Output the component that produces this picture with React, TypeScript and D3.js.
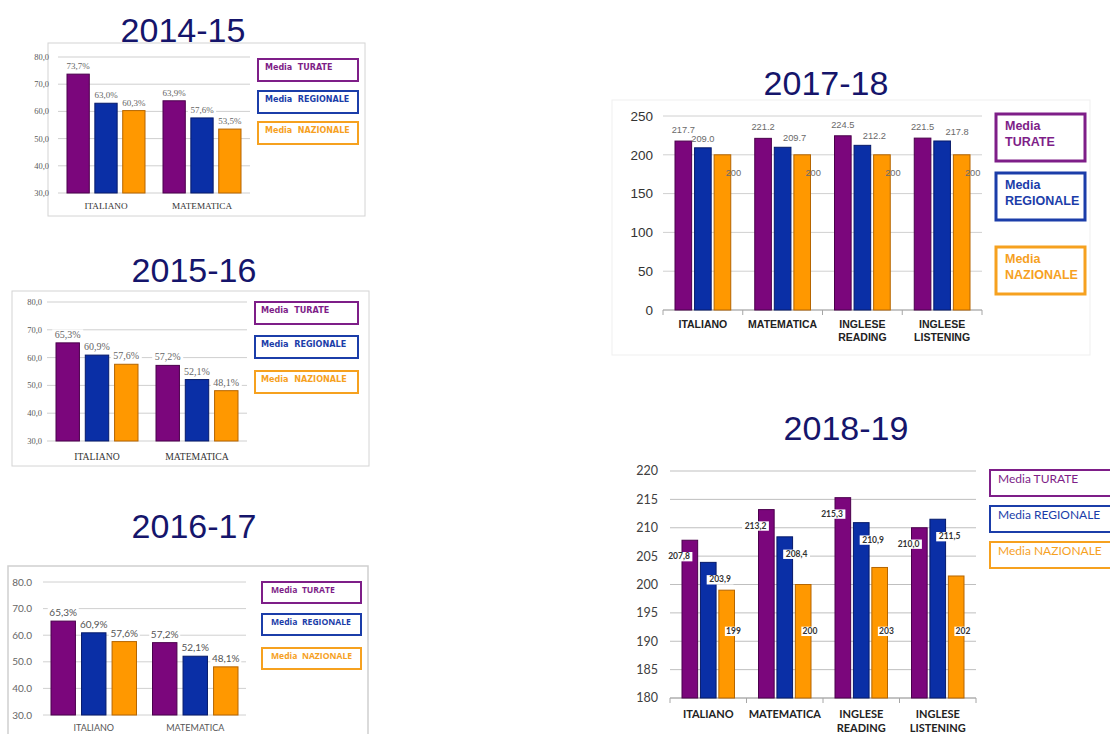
import * as d3 from "d3";

// series + categories
const seriesNames = ["Media TURATE", "Media REGIONALE", "Media NAZIONALE"];
const subjects2 = ["ITALIANO", "MATEMATICA"];
const subjects4 = ["ITALIANO", "MATEMATICA", "INGLESE\nREADING", "INGLESE\nLISTENING"];

// values
const turate1415 = [73.7, 63.9];
const regionale1415 = [63.0, 57.6];
const nazionale1415 = [60.3, 53.5];

const turate1516 = [65.3, 57.2];
const regionale1516 = [60.9, 52.1];
const nazionale1516 = [57.6, 48.1];

const turate1617 = [65.3, 57.2];
const regionale1617 = [60.9, 52.1];
const nazionale1617 = [57.6, 48.1];

const turate1718 = [217.7, 221.2, 224.5, 221.5];
const regionale1718 = [209.0, 209.7, 212.2, 217.8];
const nazionale1718 = [200, 200, 200, 200];

const turate1819 = [207.8, 213.2, 215.3, 210.0];
const regionale1819 = [203.9, 208.4, 210.9, 211.5];
const nazionale1819 = [199, 200, 203, 201.5];

// tick labels
const ticksPct = [30, 40, 50, 60, 70, 80];
const ticks1718 = [0, 50, 100, 150, 200, 250];
const ticks1819 = [180, 185, 190, 195, 200, 205, 210, 215, 220];

// label nudges (pixels) for the regional labels of 2017-18, as placed in the original
const regShift1718 = [0, 12, 12, 15];

const barColors = ["#7b067c", "#0a2fa6", "#ff9800"];
const barEdges = ["#4b004c", "#061a6a", "#b56500"];
const legendColors = ["#7e1e88", "#1b3da9", "#f6a11f"];

const itLocale = d3.formatLocale({ decimal: ",", thousands: ".", grouping: [3], currency: ["", "€"] });
const comma1 = itLocale.format(".1f");
const dot1 = d3.format(".1f");
const int0 = d3.format(".0f");
const pctComma = (v: number) => comma1(v) + "%";

type LabelMode = "above" | "split1718" | "split1819";

type PanelProps = {
  cats: string[];
  data: number[][];
  fmt: ((v: number) => string)[];
  domain: [number, number];
  ticks: number[];
  tickFmt: (v: number) => string;
  left: number; right: number; top: number; bottom: number;
  inset: number; innerPad: number;
  font: string; tickSize: number; tickRight: number; tickColor: string;
  catFont: string; catSize: number; catY: number; catBold: boolean; catColor: string; catLineH: number;
  valFont: string; valSize: number; valColor: string; valBold?: boolean; mode: LabelMode;
  gridColor: string; axisTicks: boolean;
};

const BarPanel = (p: PanelProps) => {
  const x0 = d3.scaleBand<string>().domain(p.cats).range([p.left, p.right]).padding(0);
  const x1 = d3.scaleBand<string>()
    .domain(p.data.map((_, i) => String(i)))
    .range([p.inset, x0.bandwidth() - p.inset])
    .paddingInner(p.innerPad);
  const y = d3.scaleLinear().domain(p.domain).range([p.bottom, p.top]);
  const bw = x1.bandwidth();

  const labels: JSX.Element[] = [];
  p.data.forEach((vals, s) => {
    vals.forEach((v, c) => {
      const bx = (x0(p.cats[c]) || 0) + (x1(String(s)) || 0);
      const txt = p.fmt[s](v);
      let lx = bx + bw / 2;
      let ly = y(v) - 5;
      let bg = false;
      if (p.mode === "above") {
        bg = true;
      } else if (p.mode === "split1718") {
        if (s === 0) ly = y(v) - 8;
        else if (s === 1) { lx += regShift1718[c]; ly = y(v) - 6; }
        else { lx = bx + bw / 2 + 11; ly = y(v) + 21; }
      } else {
        bg = true;
        if (s === 0) { lx = bx - 3; ly = y(v) + 19; }
        else if (s === 1) { lx = bx + bw + 4; ly = y(v) + 20; }
        else { lx = bx + bw - 1; ly = y(192) + 4; }
      }
      const tw = txt.length * p.valSize * 0.56 + 3;
      labels.push(
        <g key={`l${s}-${c}`}>
          {bg && <rect x={lx - tw / 2} y={ly - p.valSize * 0.85} width={tw} height={p.valSize * 1.1} fill="#fff" />}
          <text x={lx} y={ly} textAnchor="middle" fontFamily={p.valFont} fontSize={p.valSize}
            fontWeight={p.valBold ? "bold" : "normal"} fill={p.valColor}>{txt}</text>
        </g>
      );
    });
  });

  return (
    <g>
      {p.ticks.map(t => (
        <g key={t}>
          <line x1={p.left} x2={p.right} y1={y(t)} y2={y(t)} stroke={p.gridColor} strokeWidth={1} />
          <text x={p.tickRight} y={y(t)} dy="0.35em" textAnchor="end" fontFamily={p.font}
            fontSize={p.tickSize} fill={p.tickColor}>{p.tickFmt(t)}</text>
        </g>
      ))}
      {p.axisTicks && (
        <g>
          <line x1={p.left} x2={p.right} y1={p.bottom} y2={p.bottom} stroke="#a6a6a6" />
          {[...p.cats.map(c => x0(c) || 0), p.right].map((tx, i) => (
            <line key={i} x1={tx} x2={tx} y1={p.bottom} y2={p.bottom + 5} stroke="#a6a6a6" />
          ))}
        </g>
      )}
      {p.data.map((vals, s) => vals.map((v, c) => (
        <rect key={`b${s}-${c}`}
          x={(x0(p.cats[c]) || 0) + (x1(String(s)) || 0)}
          y={y(v)} width={bw} height={p.bottom - y(v)}
          fill={barColors[s]} stroke={barEdges[s]} strokeWidth={1} />
      )))}
      {labels}
      {p.cats.map(c => {
        const lines = c.split("\n");
        const cx = (x0(c) || 0) + x0.bandwidth() / 2;
        return (
          <text key={c} x={cx} y={p.catY} textAnchor="middle" fontFamily={p.catFont} fontSize={p.catSize}
            fontWeight={p.catBold ? "bold" : "normal"} fill={p.catColor}>
            {lines.map((ln, i) => (
              <tspan key={i} x={cx} dy={i === 0 ? 0 : p.catLineH}>{ln}</tspan>
            ))}
          </text>
        );
      })}
    </g>
  );
};

type LegendProps = {
  x: number; w: number; ys: number[]; h: number;
  lines: string[][]; font: string; size: number; bold: boolean;
  strokeW: number; padX: number; lineH: number;
};

const Legend = (p: LegendProps) => (
  <g>
    {p.ys.map((yy, i) => {
      const n = p.lines[i].length;
      const firstY = yy + p.h / 2 - ((n - 1) * p.lineH) / 2;
      return (
        <g key={i}>
          <rect x={p.x} y={yy} width={p.w} height={p.h} fill="#fff"
            stroke={legendColors[i]} strokeWidth={p.strokeW} />
          <text x={p.x + p.padX} y={firstY} dy="0.35em" fontFamily={p.font} fontSize={p.size}
            fontWeight={p.bold ? "bold" : "normal"} fill={legendColors[i]} style={{ whiteSpace: "pre" }}>
            {p.lines[i].map((ln, j) => (
              <tspan key={j} x={p.x + p.padX} dy={j === 0 ? 0 : p.lineH}>{ln}</tspan>
            ))}
          </text>
        </g>
      );
    })}
  </g>
);

const Title = ({ text, x, y }: { text: string; x: number; y: number }) => (
  <text x={x} y={y} textAnchor="middle" fontFamily="Liberation Sans, Arial, sans-serif"
    fontSize={34} fill="#15156b">{text}</text>
);

const serif = "Liberation Serif, serif";
const calibri = "Lato, sans-serif";
const arial = "Liberation Sans, Arial, sans-serif";
const verdana = "DejaVu Sans, sans-serif";
const legendSmall = "Open Sans, sans-serif";

const oneLine = seriesNames.map(s => [s.replace(" ", "  ")]);
const twoLines = seriesNames.map(s => s.split(" "));
const plain = seriesNames.map(s => [s]);

export default function App() {
  return (
    <svg width={1110} height={734} style={{ position: "absolute", left: 0, top: 0, background: "#fff" }}>
      <rect width={1110} height={734} fill="#fff" />

      {/* 2014-15 */}
      <Title text="2014-15" x={183} y={42} />
      <rect x={48} y={43} width={317} height={173} fill="#fff" stroke="#d4d4d4" />
      <BarPanel cats={subjects2} data={[turate1415, regionale1415, nazionale1415]}
        fmt={[pctComma, pctComma, pctComma]} domain={[30, 80]} ticks={ticksPct} tickFmt={comma1}
        left={58} right={250} top={57} bottom={193} inset={9} innerPad={0.2}
        font={serif} tickSize={8.5} tickRight={49} tickColor="#595959"
        catFont={serif} catSize={9.2} catY={209} catBold={false} catColor="#333" catLineH={12}
        valFont={serif} valSize={9} valColor="#666" mode="above" gridColor="#cfcfcf" axisTicks={false} />
      <Legend x={258} w={100} ys={[59, 91, 122]} h={22} lines={oneLine} font={verdana} size={8}
        bold={true} strokeW={2} padX={7} lineH={10} />

      {/* 2015-16 */}
      <Title text="2015-16" x={194} y={282} />
      <rect x={12} y={291} width={357} height={175} fill="#fff" stroke="#d4d4d4" />
      <BarPanel cats={subjects2} data={[turate1516, regionale1516, nazionale1516]}
        fmt={[pctComma, pctComma, pctComma]} domain={[30, 80]} ticks={ticksPct} tickFmt={comma1}
        left={47} right={247} top={302} bottom={441} inset={9} innerPad={0.2}
        font={serif} tickSize={8.5} tickRight={42} tickColor="#595959"
        catFont={serif} catSize={9.7} catY={460} catBold={false} catColor="#333" catLineH={12}
        valFont={serif} valSize={10} valColor="#666" mode="above" gridColor="#cfcfcf" axisTicks={false} />
      <Legend x={255} w={103} ys={[302, 336, 371]} h={22} lines={oneLine} font={verdana} size={8.1}
        bold={true} strokeW={2} padX={6} lineH={10} />

      {/* 2016-17 */}
      <Title text="2016-17" x={194} y={538} />
      <rect x={8} y={566} width={360} height={190} fill="#fff" stroke="#cfcfcf" strokeWidth={1.5} />
      <BarPanel cats={subjects2} data={[turate1617, regionale1617, nazionale1617]}
        fmt={[pctComma, pctComma, pctComma]} domain={[30, 80]} ticks={ticksPct} tickFmt={dot1}
        left={43} right={246} top={582} bottom={715} inset={8} innerPad={0.2}
        font={calibri} tickSize={10} tickRight={32} tickColor="#666"
        catFont={calibri} catSize={9} catY={731} catBold={false} catColor="#555" catLineH={12}
        valFont={calibri} valSize={10} valColor="#555" mode="above" gridColor="#d0d0d0" axisTicks={false} />
      <Legend x={262} w={99} ys={[582, 614, 648]} h={21} lines={oneLine} font={legendSmall} size={8.6}
        bold={true} strokeW={2} padX={9} lineH={10} />

      {/* 2017-18 */}
      <Title text="2017-18" x={826} y={95} />
      <rect x={612} y={100} width={478} height={255} fill="#fff" stroke="#efefef" />
      <BarPanel cats={subjects4} data={[turate1718, regionale1718, nazionale1718]}
        fmt={[dot1, dot1, int0]} domain={[0, 250]} ticks={ticks1718} tickFmt={int0}
        left={663} right={982} top={116} bottom={310} inset={12} innerPad={0.15}
        font={arial} tickSize={13.5} tickRight={653} tickColor="#333"
        catFont={arial} catSize={10.5} catY={328} catBold={true} catColor="#222" catLineH={13}
        valFont={arial} valSize={9.3} valColor="#6a6a6a" mode="split1718" gridColor="#d0d0d0" axisTicks={true} />
      <Legend x={996} w={89} ys={[114, 173, 247]} h={47} lines={twoLines} font={arial} size={12.5}
        bold={true} strokeW={3} padX={9} lineH={16} />

      {/* 2018-19 */}
      <Title text="2018-19" x={846} y={440} />
      <BarPanel cats={subjects4} data={[turate1819, regionale1819, nazionale1819]}
        fmt={[comma1, comma1, int0]} domain={[180, 220]} ticks={ticks1819} tickFmt={int0}
        left={670} right={976} top={471} bottom={698} inset={12} innerPad={0.15}
        font={calibri} tickSize={12.5} tickRight={658} tickColor="#404040"
        catFont={calibri} catSize={11} catY={718} catBold={true} catColor="#222" catLineH={14}
        valFont={calibri} valSize={8.5} valColor="#333" valBold={true} mode="split1819" gridColor="#bfbfbf" axisTicks={true} />
      <Legend x={990} w={130} ys={[470, 506, 542]} h={26} lines={plain} font={calibri} size={12}
        bold={false} strokeW={2} padX={8} lineH={14} />
    </svg>
  );
}
